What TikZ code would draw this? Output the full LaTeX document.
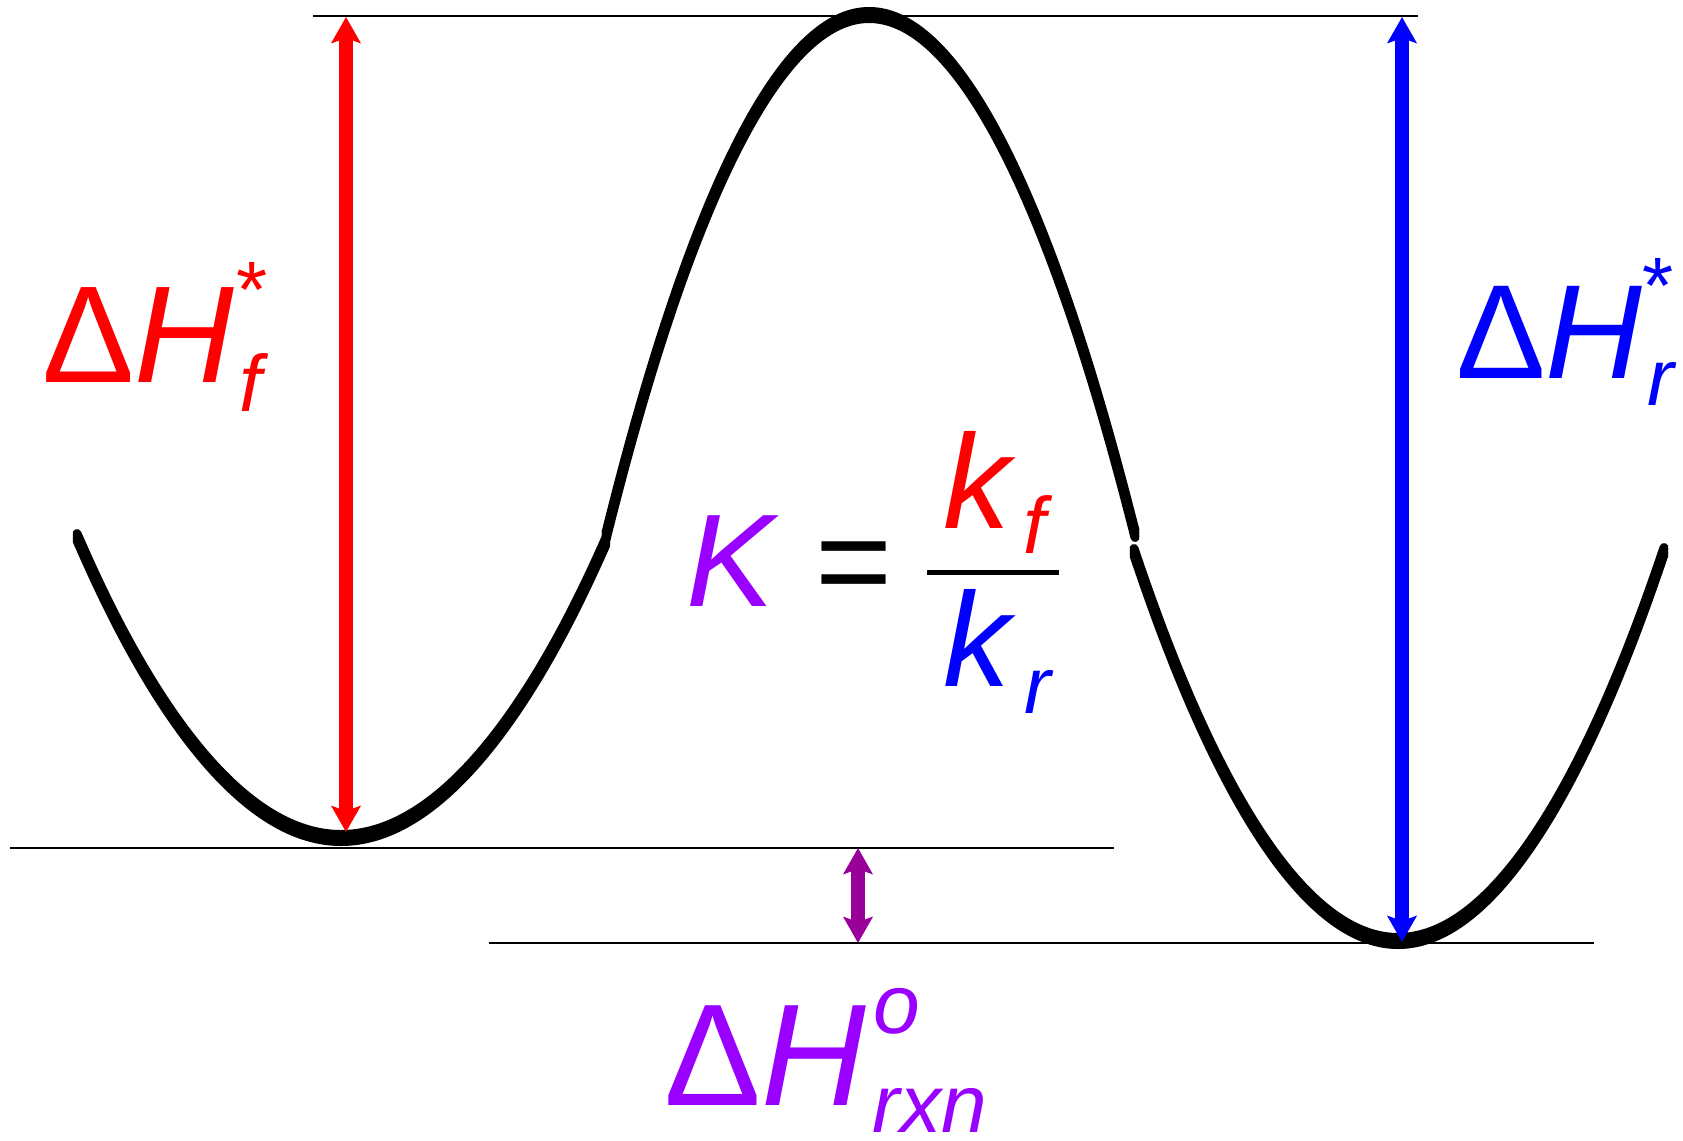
\documentclass[tikz,border=0pt]{standalone}
\usepackage{fontspec}
\setmainfont{Liberation Sans}
\usetikzlibrary{arrows.meta}
\definecolor{vio}{RGB}{153,0,255}
\definecolor{plum}{RGB}{153,0,153}
\newcommand{\fsz}[1]{\fontsize{#1}{#1}\selectfont}
\newcommand{\sm}{\fontsize{80}{80}\selectfont}
\tikzset{
  curve/.style={line width=9pt, line cap=round},
  level/.style={line width=2.5pt},
  dbl/.style={line width=14pt, {Stealth[length=26pt,width=29pt,inset=5pt]}-{Stealth[length=26pt,width=29pt,inset=5pt]}},
  lbl/.style={inner sep=0pt, anchor=base west}
}
\begin{document}
\begin{tikzpicture}[x=1pt,y=-1pt]
\useasboundingbox (0,0) rectangle (1683,1140);
% level lines
\draw[level] (313,16) -- (1418,16);
\draw[level] (10,848) -- (1114,848);
\draw[level] (489,943) -- (1594,943);
% energy curve (drawn with a tall pen: strokes offset vertically)
\foreach \dy in {-3.5,0,3.5}{
  \begin{scope}[yshift=\dy pt]
    \draw[curve] (77,537) parabola bend (341,838) (606,541);
    \draw[curve] (606,536) parabola bend (869,15) (1135,534);
    \draw[curve] (1134,552) parabola bend (1398,941) (1664,551);
  \end{scope}
}
% arrow end points
\coordinate (ftop) at (346,17);
\coordinate (fbot) at (346,832);
\coordinate (rtop) at (1402,17);
\coordinate (rbot) at (1402,942);
\coordinate (xtop) at (858,848);
\coordinate (xbot) at (858,943);
\draw[dbl, red] (fbot) -- (ftop);
\draw[dbl, blue] (rbot) -- (rtop);
\draw[dbl, plum] (xbot) -- (xtop);
% labels
\node[lbl, text=red] (dhf) at (42,382) {\fsz{138}Δ\textit{H}\rlap{\kern2pt\raisebox{65pt}{\sm *}}\kern5pt\raisebox{-29pt}{\sm\textit{f}}};
\node[lbl, text=blue] (dhr) at (1456,378) {\fsz{134}Δ\textit{H}\rlap{\raisebox{65pt}{\sm *}}\kern5pt\raisebox{-27pt}{\sm\textit{r}}};
\node[lbl] (keq) at (686,606) {\fsz{132}\textcolor{vio}{\textit{K}} =};
\node[lbl, text=red] (kf) at (943,528) {\fsz{134}\textit{k}\kern8pt\raisebox{-25pt}{\sm\textit{f}}};
\node[lbl, text=blue] (kr) at (943,686) {\fsz{134}\textit{k}\kern9pt\raisebox{-27pt}{\sm\textit{r}}};
\draw[line width=5pt] (927,572) -- (1059,572);
\node[lbl, text=vio] (dhx) at (664,1105) {\fsz{145}Δ\textit{H}\rlap{\kern8pt\raisebox{72pt}{\fontsize{84}{84}\selectfont\textit{o}}}\kern7pt\raisebox{-27pt}{\fontsize{82}{82}\selectfont\textit{rxn}}};
\end{tikzpicture}
\end{document}
